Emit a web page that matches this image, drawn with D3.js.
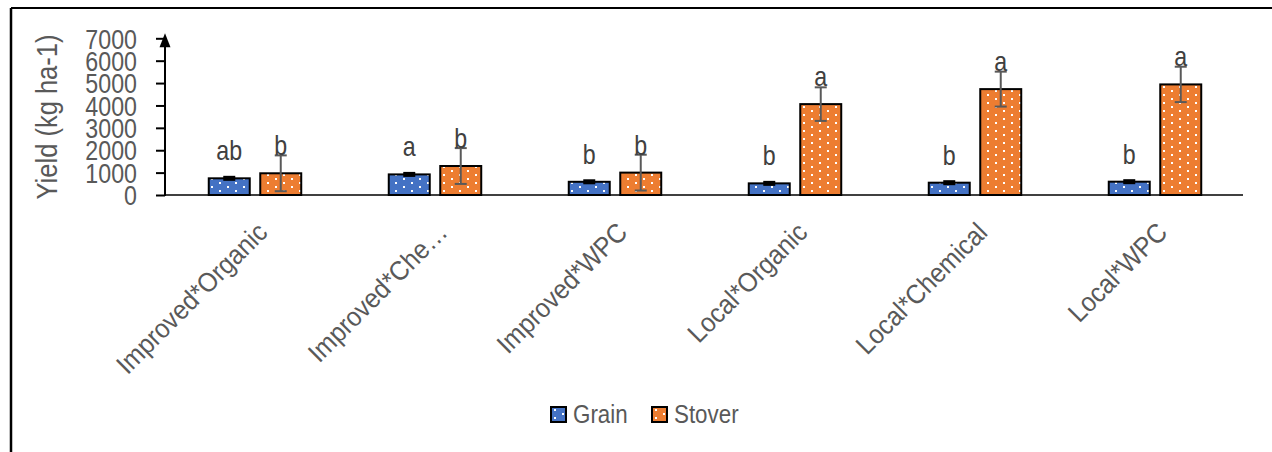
<!DOCTYPE html>
<html><head><meta charset="utf-8">
<script src="https://cdn.jsdelivr.net/npm/d3@7"></script>
<style>
html,body{margin:0;padding:0;background:#fff;}
svg{display:block;}
text{font-family:"Liberation Sans",Arial,sans-serif;}
</style></head>
<body>
<svg id="chart" width="1272" height="452"></svg>
<script>
const categories = ["Improved*Organic","Improved*Chemical","Improved*WPC","Local*Organic","Local*Chemical","Local*WPC"];
const tickLabels = ["Improved*Organic","Improved*Che\u2026","Improved*WPC","Local*Organic","Local*Chemical","Local*WPC"];
const seriesNames = ["Grain","Stover"];
const grain = [745, 920, 590, 520, 550, 595];
const grainErr = [45, 45, 45, 45, 45, 45];
const stover = [970, 1295, 1000, 4060, 4730, 4940];
const stoverErr = [800, 800, 800, 750, 780, 790];
const grainLetters = ["ab","a","b","b","b","b"];
const stoverLetters = ["b","b","b","a","a","a"];
const yTicks = [0,1000,2000,3000,4000,5000,6000,7000];

const SX = 0.86; // narrow font emulation
const svg = d3.select("#chart");
const defs = svg.append("defs");
const colors = {Grain:"#4472C4", Stover:"#ED7D31"};
seriesNames.forEach(s=>{
  const p = defs.append("pattern").attr("id","pat"+s).attr("patternUnits","userSpaceOnUse")
    .attr("width",16).attr("height",8);
  p.append("rect").attr("width",16).attr("height",8).attr("fill",colors[s]);
  p.append("rect").attr("x",3).attr("y",2).attr("width",2).attr("height",2).attr("fill","#fff");
  p.append("rect").attr("x",11).attr("y",6).attr("width",2).attr("height",2).attr("fill","#fff");
});

// outer frame
svg.append("line").attr("x1",11).attr("x2",1272).attr("y1",8).attr("y2",8).attr("stroke","#000").attr("stroke-width",2);
svg.append("line").attr("x1",11).attr("x2",11).attr("y1",8).attr("y2",452).attr("stroke","#000").attr("stroke-width",2.5);

const y = d3.scaleLinear().domain([0,7000]).range([195,38.3]);
const x = d3.scaleBand().domain(categories).range([165,1245]).padding(0);
const xi = d3.scaleBand().domain(seriesNames).range([0,x.bandwidth()]).paddingInner(0.204).paddingOuter(0.85);

// x baseline
svg.append("line").attr("x1",165).attr("x2",1243).attr("y1",y(0)).attr("y2",y(0)).attr("stroke","#404040").attr("stroke-width",2);

// y axis
const yAxis = d3.axisLeft(y).tickValues(yTicks).tickSize(9).tickPadding(19).tickFormat(d3.format("d"));
const gy = svg.append("g").attr("transform","translate(165,0)").call(yAxis);
gy.select(".domain").remove();
gy.selectAll(".tick line").attr("stroke","#000").attr("stroke-width",2);
gy.selectAll(".tick text").attr("fill","#595959").attr("font-size",27).attr("dy","0.36em")
  .attr("x",0).attr("transform",`translate(-28,0) scale(${SX},1)`);
svg.append("line").attr("x1",165).attr("x2",165).attr("y1",y(0)+1).attr("y2",y(7000)+6).attr("stroke","#000").attr("stroke-width",2);
svg.append("path").attr("d",`M165,${y(7000)-5} L159.5,${y(7000)+9} L170.5,${y(7000)+9} Z`).attr("fill","#000");

svg.append("text").attr("transform",`translate(57,117) rotate(-90) scale(0.88,1)`).attr("text-anchor","middle")
  .attr("fill","#595959").attr("font-size",29).text("Yield (kg ha-1)");

// bars
const data = categories.map((c,i)=>[
  {cat:c, s:"Grain", v:grain[i], e:grainErr[i], l:grainLetters[i]},
  {cat:c, s:"Stover", v:stover[i], e:stoverErr[i], l:stoverLetters[i]}
]).flat();
const cxOf = d=>x(d.cat)+xi(d.s)+xi.bandwidth()/2;

svg.append("g").selectAll("rect").data(data).join("rect")
  .attr("x",d=>x(d.cat)+xi(d.s)).attr("width",xi.bandwidth())
  .attr("y",d=>y(d.v)).attr("height",d=>y(0)-y(d.v))
  .attr("fill",d=>"url(#pat"+d.s+")").attr("stroke","#000").attr("stroke-width",2);

// error bars
const eb = svg.append("g").selectAll("g").data(data).join("g")
  .attr("stroke",d=>d.s==="Grain"?"#000":"#595959").attr("stroke-width",d=>d.s==="Grain"?3:2);
eb.append("line").attr("x1",cxOf).attr("x2",cxOf)
  .attr("y1",d=>y(d.v+d.e)).attr("y2",d=>y(d.v-d.e));
eb.append("line").attr("x1",d=>cxOf(d)-6).attr("x2",d=>cxOf(d)+6)
  .attr("y1",d=>y(d.v+d.e)).attr("y2",d=>y(d.v+d.e));
eb.append("line").attr("x1",d=>cxOf(d)-6).attr("x2",d=>cxOf(d)+6)
  .attr("y1",d=>y(d.v-d.e)).attr("y2",d=>y(d.v-d.e));

// letters
svg.append("g").selectAll("text").data(data).join("text")
  .attr("transform",d=>`translate(${cxOf(d)},${y(d.v)-18}) scale(${SX},1)`)
  .attr("text-anchor","middle").attr("fill","#404040").attr("font-size",27).text(d=>d.l);

// category labels
svg.append("g").selectAll("text").data(categories).join("text")
  .attr("transform",(c)=>`translate(${x(c)+x.bandwidth()/2+14},${y(0)+39}) rotate(-45) scale(0.92,1)`)
  .attr("text-anchor","end").attr("fill","#595959").attr("font-size",27)
  .text((c,i)=>tickLabels[i]);

// legend
const leg = svg.append("g").selectAll("g").data(seriesNames).join("g")
  .attr("transform",(s,i)=>`translate(${i===0?551:652},407)`);
leg.append("rect").attr("width",15).attr("height",15).attr("fill",s=>"url(#pat"+s+")").attr("stroke","#000").attr("stroke-width",2);
leg.append("text").attr("transform",`translate(22,16) scale(${SX},1)`).attr("fill","#595959").attr("font-size",26).text(s=>s);
</script>
</body></html>
